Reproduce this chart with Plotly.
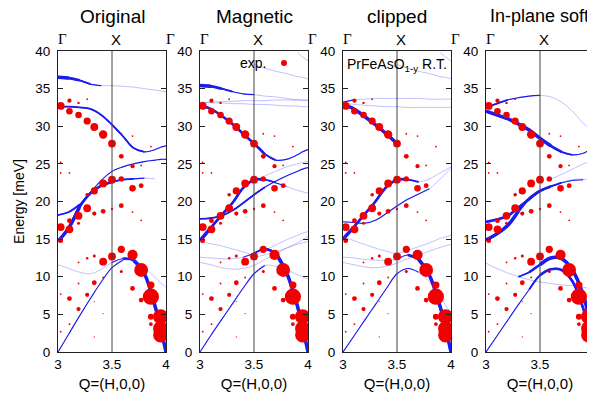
import plotly.graph_objects as go

N = None
# Momentum grid (H in r.l.u.) used by all calculated branches
H_GRID = [3.0, 3.1, 3.2, 3.3, 3.4, 3.5, 3.6, 3.7, 3.8, 3.9, 3.95, 4.0]

PANEL_TITLES = ["Original", "Magnetic", "clipped", "In-plane soft"]
Y_TICKS = [0, 5, 10, 15, 20, 25, 30, 35, 40]
X_TICKS = [3, 3.5, 4]
X_TICKTEXT = ["3", "3.5", "4"]
TOP_LABELS = ["Γ", "X", "Γ"]

# ---- experimental points (H, E, intensity-size) ----
EXP_H = [3.025, 3.106, 3.19, 3.27, 3.106, 3.19, 3.27, 3.336, 3.418, 3.50, 3.586, 3.69, 3.586, 3.69, 3.77, 3.86,
         3.025, 3.025, 3.106, 3.50, 3.418, 3.336, 3.586, 3.69, 3.77, 3.27,
         3.27, 3.19, 3.336, 3.418, 3.50, 3.586, 3.69, 3.77, 3.025, 3.106, 3.19, 3.106, 3.025,
         3.50, 3.586, 3.69, 3.418, 3.336, 3.27, 3.19, 3.77, 3.586, 3.418, 3.336, 3.86, 3.69, 3.19, 3.025,
         3.106, 3.27, 3.86, 3.77, 3.19, 3.336, 3.86, 3.95, 3.95, 3.95, 3.86, 3.106, 3.025, 3.418, 3.336]
EXP_E = [32.7, 33.4, 33.1, 33.6, 32.0, 31.5, 30.7, 29.9, 28.9, 27.7, 29.0, 28.7, 26.0, 24.7, 24.8, 27.3,
         25.2, 23.8, 23.8, 22.9, 22.4, 21.4, 23.0, 21.75, 22.1, 20.9,
         19.1, 18.1, 18.4, 18.7, 19.0, 19.45, 18.6, 17.5, 16.6, 17.45, 17.1, 16.3, 14.8,
         12.7, 13.65, 12.9, 12.0, 12.75, 12.45, 11.9, 10.9, 10.7, 9.9, 9.2, 8.9, 8.45, 9.1, 7.7,
         7.1, 7.6, 7.35, 6.9, 5.7, 6.7, 4.7, 4.7, 3.1, 2.25, 3.7, 3.7, 2.7, 5.1, 2.0]
EXP_S = [6.5, 3.5, 2, 1.5, 5.5, 5.5, 6, 6.5, 7, 6.5, 1.5, 1.5, 4, 3.5, 1.5, 1.5,
         1.5, 1.5, 1.5, 6.5, 6.5, 6, 4.5, 5.5, 4, 3,
         6.5, 6.5, 3.5, 4, 2, 4, 1.5, 1.5, 6.5, 4, 2.5, 6.5, 4,
         6.5, 6, 8.5, 6.5, 2.5, 2, 1.5, 11.5, 2.5, 1.5, 4, 6, 4, 1.5, 1.5,
         4, 3.5, 13.5, 4, 3.5, 1, 5, 12.5, 12.5, 12.5, 3, 1.5, 1.5, 1, 1]

# ---- calculated branches: energies on H_GRID and intensity class 0..4 ----
# Original
O_TOP_E = [36.5, 36.4, 36.1, 35.6, 35.4, 35.4, 35.3, 35.2, 35.0, 34.8, 34.7, 34.6]
O_TOP_I = [4, 4, 3, 2, 1, 0, 0, 0, 0, 0, 0, 0]
O_OPT_E = [32.6, 32.6, 32.5, 32.3, 31.5, 30.2, 28.7, 27.1, 26.6, 26.9, 27.2, 27.4]
O_OPT_I = [2, 2, 2, 2, 2, 2, 2, 2, 2, 1, 1, 1]
O_MID1_E = [18.2, 18.6, 19.6, 21.2, 22.8, 24.0, 24.6, 25.0, 25.3, 25.5, 25.6, 25.6]
O_MID1_I = [2, 2, 2, 1, 1, 1, 1, 1, 1, 1, 1, 1]
O_MID2_E = [14.7, 16.5, 19.3, 21.1, 22.1, 22.6, 22.9, 23.0, 23.1, 23.0, N, N]
O_MID2_I = [4, 4, 4, 3, 3, 3, 2, 2, 1, 0, N, N]
O_LOW_E = [11.6, 11.1, 10.6, 10.4, 11.0, 11.9, 12.4, 12.2, 10.4, 6.0, 3.2, 0.0]
O_LOW_I = [0, 0, 0, 0, 0, 1, 3, 4, 4, 4, 4, 4]
O_AC_E = [0.0, 2.4, 4.8, 7.1, 9.3, 11.2, 12.2, 12.2, 11.2, 9.9, 9.2, 8.6]
O_AC_I = [1, 1, 1, 1, 1, 1, 1, 0, 0, 0, 0, 0]

# Magnetic
M_TOP_E = [35.4, 35.3, 35.0, 34.6, 34.3, 34.2, 34.0, 33.9, 33.7, 33.5, 33.45, 33.4]
M_TOP_I = [4, 4, 3, 2, 1, 1, 0, 0, 0, 0, 0, 0]
M_HI_E = [N, N, N, N, N, 38.2, 37.7, 37.3, 37.0, 36.6, 36.5, 36.3]
M_HI_I = [N, N, N, N, N, 0, 0, 0, 0, 0, 0, 0]
M_HI2_E = [N, N, N, N, N, N, N, N, N, 39.8, 39.2, 38.7]
M_HI2_I = [N, N, N, N, N, N, N, N, N, 0, 0, 0]
M_FL1_E = [33.2, 33.2, 33.3, 33.3, 33.4, 33.4, 33.4, 33.5, 33.5, 33.5, 33.5, 33.5]
M_FL1_I = [0] * 12
M_FL2_E = [33.2, 33.1, 33.1, 33.0, 33.0, 32.9, 32.9, 32.8, 32.7, 32.7, 32.6, 32.6]
M_FL2_I = [0] * 12
M_OPT_E = [32.8, 32.3, 31.4, 30.3, 29.0, 27.7, 26.3, 25.5, 25.6, 26.2, 26.6, 26.9]
M_OPT_I = [3, 3, 3, 3, 3, 3, 3, 2, 1, 1, 1, 1]
M_MID1_E = [14.8, 16.5, 18.2, 19.8, 21.8, 22.9, 22.9, 22.5, 22.0, 21.5, 21.3, 21.1]
M_MID1_I = [4, 4, 3, 3, 3, 3, 3, 2, 1, 0, 0, 0]
M_MID2_E = [17.7, 17.8, 18.1, 18.8, 19.8, 20.9, 21.9, 22.7, 23.4, 24.0, 24.3, 24.5]
M_MID2_I = [2, 2, 2, 2, 2, 2, 2, 1, 1, 1, 1, 1]
M_MID3_E = [N, N, N, N, N, N, 23.4, 24.0, 24.6, 25.0, 25.2, 25.3]
M_MID3_I = [N, N, N, N, N, N, 0, 0, 0, 0, 0, 0]
M_LOW1_E = [12.6, 12.5, 12.4, 12.4, 12.6, 13.1, 13.7, 13.1, 10.6, 6.2, 3.3, 0.0]
M_LOW1_I = [0, 0, 0, 0, 1, 2, 3, 4, 4, 4, 4, 4]
M_LOW2_E = [14.6, 14.4, 14.1, 13.7, 13.3, 12.9, 13.5, 14.2, 14.9, 15.5, 15.8, 16.0]
M_LOW2_I = [0] * 12
M_LOW3_E = [11.9, 11.6, 11.2, 11.0, 11.1, 11.5, 12.3, 13.0, 13.8, 14.5, 14.9, 15.3]
M_LOW3_I = [0] * 12
M_LOW4_E = [N, N, N, N, N, 12.6, 12.9, 13.3, 13.8, 14.3, 14.5, 14.7]
M_LOW4_I = [N, N, N, N, N, 0, 0, 0, 0, 0, 0, 0]
M_AC_E = [0.0, 2.2, 4.3, 6.4, 8.5, 10.4, 11.5, 11.4, 10.9, 10.3, 10.0, 9.7]
M_AC_I = [1, 1, 1, 1, 1, 1, 1, 0, 0, 0, 0, 0]

# clipped
C_FL1_E = [33.2, 33.5, 33.6, 33.7, 33.7, 33.7, 33.7, 33.7, 33.6, 33.6, 33.6, 33.6]
C_FL1_I = [2, 1, 0, 0, 0, 0, 0, 0, 0, 0, 0, 0]
C_FL2_E = [33.1, 32.9, 32.8, 32.7, 32.6, 32.6, 32.5, 32.5, 32.5, 32.5, 32.5, 32.5]
C_FL2_I = [0] * 12
C_OPT_E = [32.9, 32.3, 31.3, 30.2, 29.0, 27.7, N, N, N, N, N, N]
C_OPT_I = [4, 4, 4, 4, 4, 4, N, N, N, N, N, N]
C_MID1_E = [15.0, 16.6, 18.3, 20.0, 21.9, 22.9, 22.9, 22.6, 23.0, 23.8, 24.2, 24.6]
C_MID1_I = [4, 4, 3, 3, 3, 3, 3, 2, 0, 0, 0, 0]
C_MID2_E = [17.3, 17.2, 17.1, 17.5, 18.4, 19.4, 20.3, 21.0, 21.7, 23.0, 23.7, 24.4]
C_MID2_I = [1, 1, 1, 1, 1, 1, 1, 1, 1, 0, 0, 0]
C_LOW1_E = [12.6, 12.5, 12.3, 12.2, 12.2, 12.3, 12.9, 12.3, 10.2, 6.0, 3.2, 0.0]
C_LOW1_I = [0, 0, 0, 0, 0, 1, 3, 4, 4, 4, 4, 4]
C_LOW2_E = [15.3, 14.8, 14.3, 13.8, 13.4, 13.1, 13.5, 14.0, 14.5, 15.1, 15.3, 15.5]
C_LOW2_I = [0] * 12
C_LOW3_E = [11.9, 11.6, 11.3, 11.2, 11.4, 11.8, 12.4, 12.9, 13.4, 13.9, 14.1, 14.3]
C_LOW3_I = [0] * 12
C_AC_E = [0.0, 2.1, 4.2, 6.3, 8.4, 10.4, 11.1, 10.6, 9.3, 7.3, 6.2, 5.2]
C_AC_I = [1, 1, 1, 1, 1, 1, 1, 1, 0, 0, 0, 0]

# In-plane soft
P_TOP_E = [32.5, 33.0, 33.5, 33.8, 34.0, 34.1, 33.9, 33.2, 32.0, 30.4, 29.8, 29.3]
P_TOP_I = [2, 2, 2, 1, 1, 1, 0, 0, 0, 0, 0, 0]
P_OPT_E = [32.0, 31.5, 31.0, 30.3, 29.5, 28.4, 27.4, 26.6, 26.2, 26.4, 26.8, 27.3]
P_OPT_I = [4, 4, 4, 4, 4, 4, 4, 3, 2, 1, 1, 1]
P_MID1_E = [17.3, 17.6, 18.1, 19.2, 20.3, 21.4, 22.0, 22.5, 22.8, 22.9, 22.9, 22.9]
P_MID1_I = [3, 3, 3, 3, 3, 3, 3, 2, 1, 1, 0, 0]
P_MID2_E = [14.9, 15.7, 16.8, 18.7, 20.4, 21.4, 22.0, 22.5, 22.9, 23.0, N, N]
P_MID2_I = [4, 4, 4, 4, 3, 3, 2, 1, 0, 0, N, N]
P_MID3_E = [N, N, N, N, N, N, 23.0, 23.6, 24.3, 25.0, 25.3, 25.5]
P_MID3_I = [N, N, N, N, N, N, 0, 0, 0, 0, 0, 0]
P_LOW1_E = [11.8, 11.1, 10.5, 10.0, 9.6, 9.3, 9.1, 8.9, 8.8, 8.6, 8.5, 8.5]
P_LOW1_I = [0] * 12
P_UP_E = [N, N, N, 10.0, 10.6, 11.6, 12.5, 12.4, 10.9, 7.6, 4.8, 0.5]
P_UP_I = [N, N, N, 2, 3, 4, 4, 4, 4, 4, 4, 4]
P_AC_E = [0.0, 2.1, 4.2, 6.3, 8.3, 10.2, 11.0, 10.9, 9.4, 5.8, 3.2, 0.0]
P_AC_I = [1, 1, 1, 1, 2, 3, 3, 3, 3, 3, 3, 3]

PANELS = [
    [(O_TOP_E, O_TOP_I), (O_OPT_E, O_OPT_I), (O_MID1_E, O_MID1_I), (O_MID2_E, O_MID2_I),
     (O_LOW_E, O_LOW_I), (O_AC_E, O_AC_I)],
    [(M_HI_E, M_HI_I), (M_HI2_E, M_HI2_I), (M_FL1_E, M_FL1_I), (M_FL2_E, M_FL2_I), (M_TOP_E, M_TOP_I),
     (M_OPT_E, M_OPT_I), (M_MID3_E, M_MID3_I), (M_MID2_E, M_MID2_I), (M_MID1_E, M_MID1_I),
     (M_LOW2_E, M_LOW2_I), (M_LOW3_E, M_LOW3_I), (M_LOW4_E, M_LOW4_I), (M_AC_E, M_AC_I), (M_LOW1_E, M_LOW1_I)],
    [(M_HI_E, M_HI_I), (M_HI2_E, M_HI2_I), (C_FL1_E, C_FL1_I), (C_FL2_E, C_FL2_I), (C_OPT_E, C_OPT_I),
     (C_MID2_E, C_MID2_I), (C_MID1_E, C_MID1_I), (C_LOW2_E, C_LOW2_I), (C_LOW3_E, C_LOW3_I),
     (C_AC_E, C_AC_I), (C_LOW1_E, C_LOW1_I)],
    [(P_TOP_E, P_TOP_I), (P_OPT_E, P_OPT_I), (P_MID3_E, P_MID3_I), (P_MID1_E, P_MID1_I), (P_MID2_E, P_MID2_I),
     (P_LOW1_E, P_LOW1_I), (P_AC_E, P_AC_I), (P_UP_E, P_UP_I)],
]

# ---------------- figure ----------------
# the page body has an 8 px margin, so the figure is drawn 8 px smaller and
# every pixel position below is (reference pixel - 8)
OFF = 8
W, Hh = 595 - OFF, 400 - OFF
LEFT_PX = [58 - OFF, 200 - OFF, 343 - OFF, 486 - OFF]
PW = 108
TOP_PX, BOT_PX = 51 - OFF, 352 - OFF
FONT = "Liberation Sans, Arial, Helvetica, sans-serif"
BLUE = "rgb(28,28,238)"
FAINT = "rgba(80,80,255,0.45)"
LEVELS = [(1, 1.1), (2, 1.8), (3, 2.6), (4, 3.5)]
DOT_SCALE = 1.2

fig = go.Figure()


def runs(points, cond):
    out, cur = [], []
    for p in points:
        if p is not None and cond(p):
            cur.append(p)
        else:
            if len(cur) >= 2:
                out.append(cur)
            cur = []
    if len(cur) >= 2:
        out.append(cur)
    return out


def add_branch(E, I, xa, ya):
    pts = [(h, e, i) if e is not None else None for h, e, i in zip(H_GRID, E, I)]
    for r in runs(pts, lambda p: True):
        fig.add_trace(go.Scatter(x=[p[0] for p in r], y=[p[1] for p in r], mode="lines",
                                 line=dict(color=FAINT, width=0.8, shape="spline", smoothing=1.0),
                                 xaxis=xa, yaxis=ya, showlegend=False, hoverinfo="skip"))
    for lvl, wd in LEVELS:
        for r in runs(pts, lambda p: p[2] >= lvl):
            fig.add_trace(go.Scatter(x=[p[0] for p in r], y=[p[1] for p in r], mode="lines",
                                     line=dict(color=BLUE, width=wd, shape="spline", smoothing=1.0),
                                     xaxis=xa, yaxis=ya, showlegend=False, hoverinfo="skip"))


layout = dict(width=W, height=Hh, margin=dict(l=0, r=0, t=0, b=0, autoexpand=False),
              paper_bgcolor="white", plot_bgcolor="white", showlegend=False,
              font=dict(family=FONT, color="black", size=13))
annotations = []
shapes = []

for k in range(4):
    sfx = "" if k == 0 else str(k + 1)
    xa, ya = "x" + sfx, "y" + sfx
    x0 = LEFT_PX[k] / W
    x1 = (LEFT_PX[k] + PW) / W
    layout["xaxis" + sfx] = dict(domain=[x0, min(x1, 1.0)], range=[3, 4], anchor=ya, tickvals=X_TICKS,
                                 ticktext=X_TICKTEXT, showline=True, mirror=True, linecolor="#222",
                                 linewidth=1, ticks="", showgrid=False, zeroline=False, automargin=False,
                                 tickfont=dict(size=13.5, family=FONT),
                                 title=dict(text="Q=(H,0,0)", font=dict(size=15, family=FONT), standoff=7))
    layout["yaxis" + sfx] = dict(domain=[1 - BOT_PX / Hh, 1 - TOP_PX / Hh], range=[0, 40], anchor=xa,
                                 tickvals=Y_TICKS, showline=True, mirror="ticks", linecolor="#222",
                                 linewidth=1, ticks="inside", ticklen=5, tickcolor="#222", automargin=False,
                                 showgrid=False, zeroline=False, ticklabelstandoff=4,
                                 tickfont=dict(size=13.5, family=FONT))
    if k == 0:
        layout["yaxis"]["title"] = dict(text="Energy [meV]", font=dict(size=14, family=FONT), standoff=7)

    # X point vertical line
    shapes.append(dict(type="line", xref=xa, yref=ya, x0=3.5, x1=3.5, y0=0, y1=40,
                       line=dict(color="#444", width=1)))

    for E, I in PANELS[k]:
        add_branch(E, I, xa, ya)

    fig.add_trace(go.Scatter(x=EXP_H, y=EXP_E, mode="markers", xaxis=xa, yaxis=ya,
                             marker=dict(color="rgb(240,0,0)", opacity=1,
                                         size=[s * DOT_SCALE for s in EXP_S], line=dict(width=0)),
                             showlegend=False, hoverinfo="skip"))

    if k < 3:
        annotations.append(dict(text=PANEL_TITLES[k], xref="paper", yref="paper", x=(x0 + x1) / 2,
                                y=1 - (16 - OFF) / Hh, xanchor="center", yanchor="middle", showarrow=False,
                                font=dict(size=19, family=FONT)))
    else:
        annotations.append(dict(text=PANEL_TITLES[k], xref="paper", yref="paper", x=(590 - OFF) / W,
                                y=1 - (16 - OFF) / Hh, xanchor="right", yanchor="middle", showarrow=False,
                                borderpad=0, font=dict(size=18, family=FONT)))
    for xv, lab in zip(X_TICKS, TOP_LABELS):
        fam = "Liberation Serif, Times New Roman, serif" if lab == "Γ" else FONT
        annotations.append(dict(text=lab, xref=xa, yref="paper", x=xv, y=1 - (39 - OFF) / Hh, xshift=4,
                                xanchor="center", yanchor="middle", showarrow=False,
                                font=dict(size=15, family=fam)))

# legend-like texts
annotations.append(dict(text="exp.", xref="paper", yref="paper", x=(268 - OFF) / W, y=1 - (63 - OFF) / Hh,
                        xanchor="right", yanchor="middle", showarrow=False, font=dict(size=14, family=FONT)))
shapes.append(dict(type="circle", xref="paper", yref="paper", x0=(281 - OFF) / W, x1=(287 - OFF) / W,
                   y0=1 - (66 - OFF) / Hh, y1=1 - (60 - OFF) / Hh, fillcolor="rgb(240,0,0)", line=dict(width=0)))
annotations.append(dict(text="PrFeAsO<sub>1-y</sub> R.T.", xref="paper", yref="paper", x=(345 - OFF) / W,
                        y=1 - (65 - OFF) / Hh, xanchor="left", yanchor="middle", showarrow=False,
                        font=dict(size=14, family=FONT)))

layout["annotations"] = annotations
layout["shapes"] = shapes
fig.update_layout(**layout)
fig.write_html("out.html")
